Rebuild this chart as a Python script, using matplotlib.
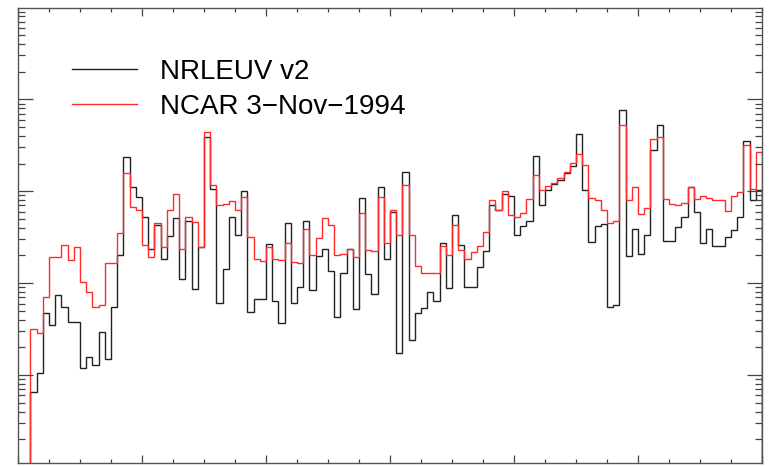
import matplotlib
matplotlib.use("Agg")
import matplotlib.pyplot as plt
import numpy as np
from matplotlib.ticker import LogLocator, MultipleLocator, NullFormatter

plt.rcParams['font.family'] = ['Liberation Sans', 'DejaVu Sans']

# 10-unit wavelength bins, 0..1200
wave_edges = np.arange(0, 1210, 10)

# NRLEUV v2 spectrum, binned (first two bins below the plotted range)
nrleuv = [1e6, 1e6, 6.6e7, 1.04e8, 4.7e8, 3.5e8, 7.4e8, 5.5e8, 3.8e8, 3.8e8,
          1.18e8, 1.58e8, 1.28e8, 2.96e8, 1.48e8, 5.5e8, 2.0e9, 2.36e10, 1.11e10, 8.7e9,
          5.3e9, 2.38e9, 4.3e9, 1.85e9, 3.24e9, 5.1e9, 1.12e9, 4.8e9, 8.6e8, 2.48e9,
          3.9e10, 1.05e10, 6.1e8, 1.41e9, 5.2e9, 3.3e9, 1.0e10, 4.9e8, 6.7e8, 6.7e8,
          2.65e9, 6.4e8, 3.7e8, 4.5e9, 6.1e8, 9.1e8, 4.7e9, 8.5e8, 1.97e9, 2.38e9,
          1.36e9, 4.3e8, 1.29e9, 2.38e9, 5.2e8, 8.5e9, 1.25e9, 7.6e8, 1.10e10, 1.85e9,
          6.0e9, 1.75e8, 1.62e10, 2.4e8, 4.7e8, 5.3e8, 8.0e8, 6.4e8, 2.7e9, 8.9e8,
          5.5e9, 2.59e9, 9.1e8, 9.1e8, 1.5e9, 2.24e9, 7.0e9, 6.2e9, 9.3e9, 8.8e9,
          3.3e9, 4.2e9, 4.8e9, 2.4e10, 7.0e9, 1.04e10, 1.21e10, 1.34e10, 1.56e10, 1.87e10,
          4.2e10, 1.03e10, 2.81e9, 4.2e9, 4.4e9, 5.5e8, 5.8e8, 7.6e10, 1.98e9, 3.9e9,
          2.05e9, 3.3e9, 2.8e10, 5.3e10, 2.86e9, 2.86e9, 4.1e9, 5.3e9, 1.10e10, 6.0e9,
          2.7e9, 3.9e9, 2.52e9, 2.52e9, 3.2e9, 3.8e9, 5.2e9, 3.5e10, 8.0e9, 1.03e10]

# NCAR 3-Nov-1994 spectrum, same bins
ncar = [1e6, 1e6, 3.2e8, 2.9e8, 7.1e8, 1.93e9, 1.93e9, 2.59e9, 1.78e9, 2.48e9,
        1.03e9, 8.0e8, 5.5e8, 5.8e8, 1.64e9, 1.64e9, 3.47e9, 1.56e10, 6.7e9, 6.2e9,
        2.59e9, 1.93e9, 4.5e9, 2.48e9, 6.2e9, 9.4e9, 2.38e9, 5.3e9, 4.6e9, 2.48e9,
        4.4e10, 1.16e10, 7.0e9, 7.2e9, 7.8e9, 6.3e9, 8.7e9, 3.2e9, 1.85e9, 1.75e9,
        2.48e9, 1.85e9, 1.78e9, 2.7e9, 1.71e9, 1.64e9, 3.9e9, 2.0e9, 3.06e9, 5.1e9,
        4.3e9, 2.0e9, 2.07e9, 2.38e9, 1.93e9, 5.8e9, 2.32e9, 2.24e9, 8.7e9, 2.7e9,
        6.3e9, 3.3e9, 1.16e10, 3.3e9, 1.53e9, 1.29e9, 1.29e9, 1.29e9, 2.52e9, 2.0e9,
        4.3e9, 2.32e9, 1.85e9, 2.19e9, 2.52e9, 3.6e9, 8.1e9, 6.2e9, 1.01e10, 5.5e9,
        5.3e9, 5.8e9, 8.3e9, 1.49e10, 1.04e10, 1.13e10, 1.23e10, 1.41e10, 1.62e10, 2.03e10,
        2.52e10, 1.92e10, 8.5e9, 8.0e9, 6.2e9, 4.5e9, 4.75e9, 5.2e10, 8.0e9, 1.11e10,
        5.7e9, 6.5e9, 3.7e10, 3.9e10, 8.3e9, 7.3e9, 7.0e9, 7.5e9, 1.11e10, 8.3e9,
        8.8e9, 8.5e9, 8.1e9, 8.1e9, 6.1e9, 8.8e9, 9.8e9, 3.16e10, 1.07e10, 2.67e10]

fig = plt.figure(figsize=(7.69, 4.66), dpi=100)
ax = fig.add_axes([18 / 769, 2.7 / 466, 744 / 769, 455 / 466])

ax.stairs(nrleuv, wave_edges, color='#222222', lw=1.0, label='NRLEUV v2')
ax.stairs(ncar, wave_edges, color='#ff2a2a', lw=1.0, label='NCAR 3\u2212Nov\u22121994')

ax.set_yscale('log')
ax.set_xlim(0, 1200)
ax.set_ylim(10 ** 7.04, 10 ** 11.99)

ax.xaxis.set_major_locator(MultipleLocator(200))
ax.xaxis.set_minor_locator(MultipleLocator(50))
ax.yaxis.set_major_locator(LogLocator(base=10, numticks=20))
ax.yaxis.set_minor_locator(LogLocator(base=10, subs=np.arange(2, 10), numticks=100))
ax.yaxis.set_minor_formatter(NullFormatter())

ax.tick_params(which='both', direction='in', top=True, right=True,
               labelbottom=False, labelleft=False, color='#444444', width=0.9)
ax.tick_params(axis='x', which='major', length=6)
ax.tick_params(axis='x', which='minor', length=3)
ax.tick_params(axis='y', which='major', length=11)
ax.tick_params(axis='y', which='minor', length=5)
for s in ax.spines.values():
    s.set_color('#555555')
    s.set_linewidth(1.0)

ax.legend(loc='upper left', bbox_to_anchor=(0.058, 0.913), frameon=False,
          fontsize=20, handlelength=2.34, handletextpad=0.83, labelspacing=0.32,
          borderaxespad=0)

fig.savefig('out.png', dpi=100)
